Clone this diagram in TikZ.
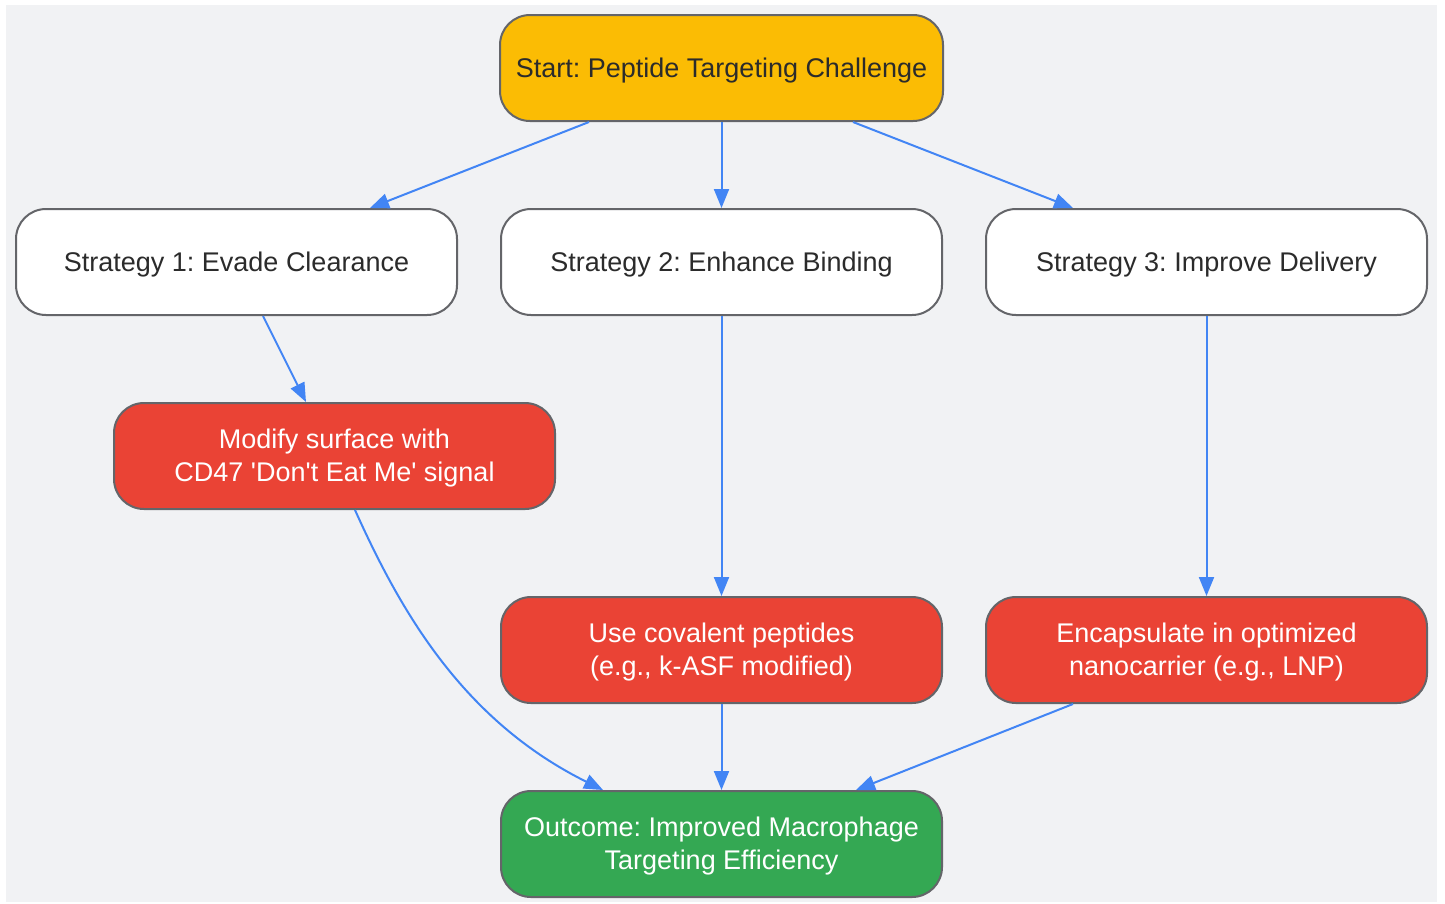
\documentclass[tikz,border=0pt]{standalone}
\usepackage{fontspec}
\setmainfont{Liberation Sans}
\usetikzlibrary{arrows.meta}
\definecolor{bgc}{HTML}{F1F2F4}
\definecolor{bordc}{HTML}{646569}
\definecolor{startc}{HTML}{FBBC04}
\definecolor{redc}{HTML}{EA4335}
\definecolor{greenc}{HTML}{34A853}
\definecolor{arrc}{HTML}{4285F4}
\definecolor{txtc}{HTML}{2B2B2B}
\newcommand{\sq}{\textquotesingle}
\tikzset{
  box/.style={draw=bordc, line width=2pt, rounded corners=30pt, minimum width=441pt, minimum height=106pt, inner sep=0pt},
  lbl/.style={align=center, font=\fontsize{27pt}{33pt}\selectfont\frenchspacing, inner sep=0pt},
  startbox/.style={box, fill=startc},
  whitebox/.style={box, fill=white},
  redbox/.style={box, fill=redc},
  greenbox/.style={box, fill=greenc},
  dark/.style={lbl, text=txtc},
  light/.style={lbl, text=white},
  conn/.style={draw=arrc, line width=2pt, -{Triangle[length=19pt,width=15pt]}}
}
\begin{document}
\begin{tikzpicture}[x=1pt,y=-1pt]
\useasboundingbox (0,0) rectangle (1445,903);
\fill[white] (0,0) rectangle (1445,903);
\fill[bgc] (6,5) rectangle (1437,902);
\node[startbox, minimum width=443pt] (start) at (721.5,68) {};
\node[whitebox] (s1) at (236.5,262) {};
\node[whitebox] (s2) at (721.5,262) {};
\node[whitebox] (s3) at (1206.5,262) {};
\node[redbox] (mod) at (334.5,456) {};
\node[redbox] (cov) at (721.5,650) {};
\node[redbox] (enc) at (1206.5,650) {};
\node[greenbox] (out) at (721.5,844) {};
\node[dark] (startT) at ([yshift=-2.5pt]start.center) {Start: Peptide Targeting Challenge};
\node[dark] (s1T) at ([yshift=-2.5pt]s1.center) {Strategy 1: Evade Clearance};
\node[dark] (s2T) at ([yshift=-2.5pt]s2.center) {Strategy 2: Enhance Binding};
\node[dark] (s3T) at ([yshift=-2.5pt]s3.center) {Strategy 3: Improve Delivery};
\node[light] (modT) at ([yshift=-2pt]mod.center) {Modify surface with\\CD47 \sq Don\sq t Eat Me\sq{} signal};
\node[light] (covT) at ([yshift=-2pt]cov.center) {Use covalent peptides\\(e.g., k-ASF modified)};
\node[light] (encT) at ([yshift=-2pt]enc.center) {Encapsulate in optimized\\nanocarrier (e.g., LNP)};
\node[light] (outT) at ([yshift=-2pt]out.center) {Outcome: Improved Macrophage\\Targeting Efficiency};
\draw[conn] ([xshift=-132.5pt]start.south) -- ([xshift=133.5pt]s1.north);
\draw[conn] (start.south) -- (s2.north);
\draw[conn] ([xshift=131.5pt]start.south) -- ([xshift=-133.5pt]s3.north);
\draw[conn] ([xshift=26.5pt]s1.south) -- ([xshift=-28.5pt]mod.north);
\draw[conn] (s2.south) -- (cov.north);
\draw[conn] (s3.south) -- (enc.north);
\draw[conn] ([xshift=20.5pt]mod.south) .. controls (400,610) and (462,720) .. ([xshift=-118.5pt]out.north);
\draw[conn] (cov.south) -- (out.north);
\draw[conn] ([xshift=-133.5pt]enc.south) -- ([xshift=134.5pt]out.north);
\end{tikzpicture}
\end{document}
